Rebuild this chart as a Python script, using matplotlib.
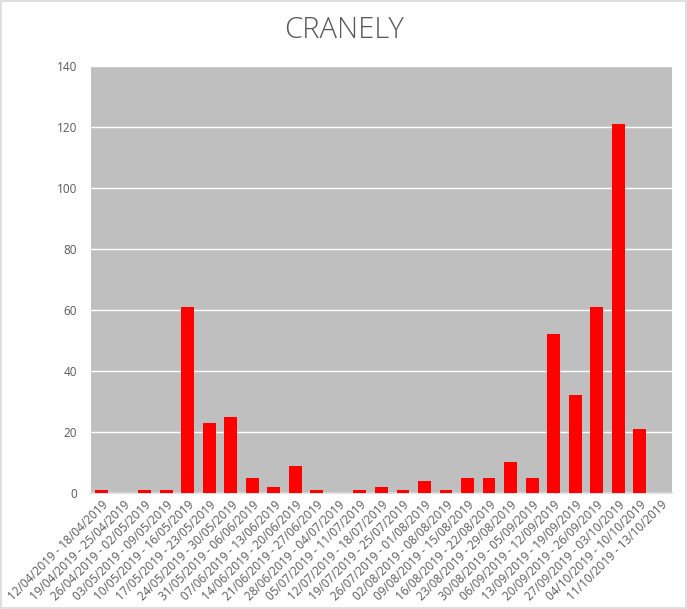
import matplotlib
matplotlib.use("Agg")
import matplotlib.pyplot as plt
from matplotlib.patches import Rectangle

categories = [
    "12/04/2019 - 18/04/2019", "19/04/2019 - 25/04/2019", "26/04/2019 - 02/05/2019",
    "03/05/2019 - 09/05/2019", "10/05/2019 - 16/05/2019", "17/05/2019 - 23/05/2019",
    "24/05/2019 - 30/05/2019", "31/05/2019 - 06/06/2019", "07/06/2019 - 13/06/2019",
    "14/06/2019 - 20/06/2019", "21/06/2019 - 27/06/2019", "28/06/2019 - 04/07/2019",
    "05/07/2019 - 11/07/2019", "12/07/2019 - 18/07/2019", "19/07/2019 - 25/07/2019",
    "26/07/2019 - 01/08/2019", "02/08/2019 - 08/08/2019", "09/08/2019 - 15/08/2019",
    "16/08/2019 - 22/08/2019", "23/08/2019 - 29/08/2019", "30/08/2019 - 05/09/2019",
    "06/09/2019 - 12/09/2019", "13/09/2019 - 19/09/2019", "20/09/2019 - 26/09/2019",
    "27/09/2019 - 03/10/2019", "04/10/2019 - 10/10/2019", "11/10/2019 - 13/10/2019",
]
values = [1, 0, 1, 1, 61, 23, 25, 5, 2, 9, 1, 0, 1, 2, 1, 4, 1, 5, 5, 10, 5,
          52, 32, 61, 121, 21, 0]
y_ticks = [0, 20, 40, 60, 80, 100, 120, 140]

plt.rcParams['font.family'] = ['Open Sans', 'DejaVu Sans']

fig = plt.figure(figsize=(6.87, 6.09), dpi=100)
fig.patches.append(Rectangle((0.002, 0.002), 0.996, 0.996, transform=fig.transFigure,
                             fill=False, edgecolor='#d9d9d9', linewidth=1.2))
ax = fig.add_axes([0.1325, 0.1905, 0.8455, 0.7011])
ax.set_facecolor('#bfbfbf')

x = list(range(len(categories)))
ax.bar(x, values, width=0.6, color='#ff0000', zorder=3)
ax.set_xlim(-0.5, len(categories) - 0.5)
ax.set_ylim(0, 140)
ax.set_yticks(y_ticks)
ax.set_yticklabels([str(v) for v in y_ticks])
ax.yaxis.grid(True, color='white', linewidth=1.0, zorder=1)
ax.set_axisbelow(True)
ax.set_xticks(x)
ax.set_xticklabels(categories, rotation=45, ha='right', rotation_mode='anchor')
ax.tick_params(axis='both', length=0, colors='#595959', labelsize=8.5)
ax.tick_params(axis='y', pad=10)
ax.tick_params(axis='x', pad=4)
for s in ['top', 'right', 'left']:
    ax.spines[s].set_visible(False)
ax.spines['bottom'].set_color('#d9d9d9')
ax.spines['bottom'].set_linewidth(1.2)

fig.text(0.5, 0.95, "CRANELY", ha='center', va='center', fontsize=21,
         color='#595959', fontweight='light')

fig.savefig("out.png", dpi=100)
